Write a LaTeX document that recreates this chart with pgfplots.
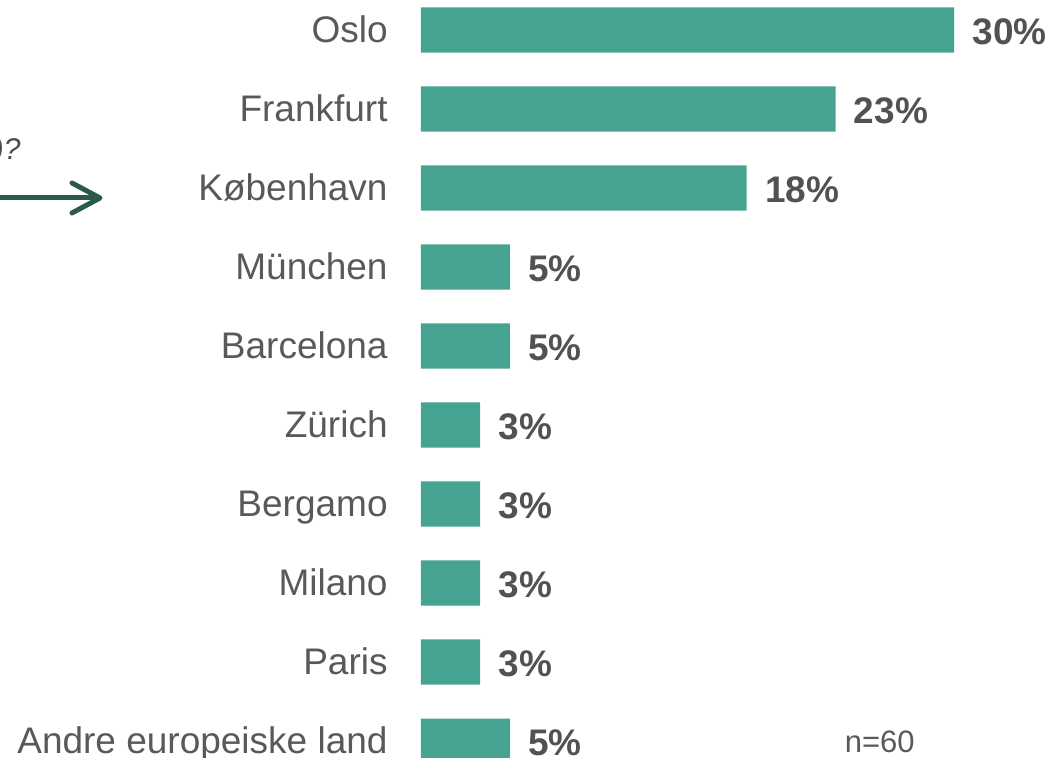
\documentclass[border=0pt]{standalone}
\usepackage{fontspec}
\setmainfont{Liberation Sans}
\usepackage{pgfplots}
\pgfplotsset{compat=1.18}
\definecolor{barc}{HTML}{46A391}
\definecolor{txt}{HTML}{595959}
\definecolor{valtxt}{HTML}{525252}
\definecolor{arr}{HTML}{2A5A4B}
\begin{document}
\begin{tikzpicture}[x=1pt,y=1pt]
\useasboundingbox (0,0) rectangle (525,379);
\begin{axis}[
  at={(210.5pt,0pt)}, anchor=south west,
  scale only axis, width=314.5pt, height=379pt,
  xbar, bar width=0.57,
  xmin=0, xmax=35.4,
  ymin=-0.38, ymax=9.215, y dir=reverse,
  axis x line=none,
  axis y line*=left, y axis line style={draw=none},
  major tick length=0pt,
  ytick={0,...,9},
  yticklabels={Oslo,Frankfurt,København,München,Barcelona,Zürich,Bergamo,Milano,Paris,Andre europeiske land},
  yticklabel style={font=\fontsize{18.5}{20}\selectfont, text=txt, inner sep=0pt, anchor=base east, xshift=-16.5pt, yshift=-6.3pt},
  point meta=explicit symbolic,
  nodes near coords,
  nodes near coords style={font=\fontsize{18.5}{20}\selectfont\bfseries, text=valtxt, anchor=base west, inner sep=0pt, xshift=9pt, yshift=-7.2pt},
  clip=false,
]
\addplot[fill=barc, draw=none] coordinates {
 (30,0) [30\%]
 (23.33,1) [23\%]
 (18.33,2) [18\%]
 (5,3) [5\%]
 (5,4) [5\%]
 (3.33,5) [3\%]
 (3.33,6) [3\%]
 (3.33,7) [3\%]
 (3.33,8) [3\%]
 (5,9) [5\%]
};
\node[font=\fontsize{15.5}{17}\selectfont, text=txt, anchor=base west, inner sep=0pt] at (axis cs:23.83,9) [yshift=-5.6pt] {n=60};
\end{axis}
\draw[arr, line width=2.5pt, line cap=round, line join=round] (-5,280) -- (49,280);
\draw[arr, line width=2.5pt, line cap=round, line join=round] (36,287.5) -- (50,280) -- (36,272.5);
\node[font=\fontsize{15}{17}\selectfont\itshape, text=txt!85!black, anchor=base east, inner sep=0pt] at (10.5,299) {)?};
\end{tikzpicture}
\end{document}
